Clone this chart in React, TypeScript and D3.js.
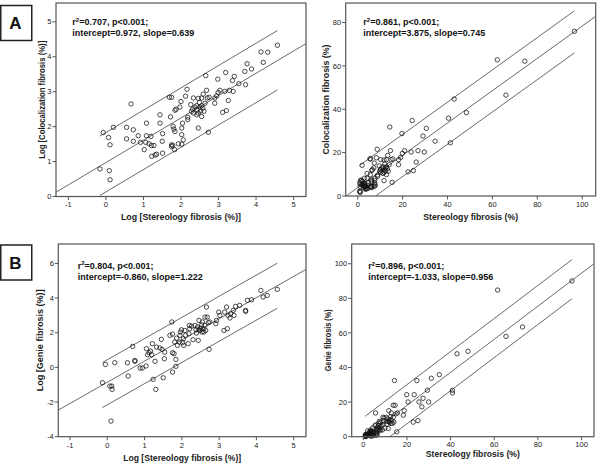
import React from 'react';
import * as d3 from 'd3';

// ---- Data (natural log of percentages) ----
const logStereologyA = [
  -0.16, -0.07, 0.07, 0.11, 0.09, 0.11, 0.2, 0.55, 0.55, 0.67,
  0.73, 0.73, 0.86, 0.92, 1.02, 1.08, 1.08, 1.06, 1.15, 1.2,
  1.21, 1.28, 1.22, 1.31, 1.35, 1.44, 1.44, 1.51, 1.5, 1.51,
  1.69, 1.75, 1.72, 1.75, 1.75, 1.78, 1.79, 1.81, 1.84, 1.84,
  1.87, 1.83, 1.93, 1.97, 2.0, 2.02, 2.02, 2.04, 2.06, 2.12,
  2.16, 2.18, 2.18, 2.26, 2.33, 2.31, 2.37, 2.42, 2.43, 2.46,
  2.46, 2.49, 2.5, 2.52, 2.55, 2.55, 2.55, 2.58, 2.59, 2.61,
  2.64, 2.66, 2.68, 2.7, 2.73, 2.75, 2.9, 2.9, 2.95, 2.98,
  2.99, 3.04, 3.11, 3.17, 3.19, 3.21, 3.26, 3.29, 3.37, 3.39,
  3.42, 3.54, 3.7, 3.72, 3.76, 3.88, 4.13, 4.19, 4.31, 4.57,
  2.02, 2.33, 2.42, 2.46, 2.28,
];
const logColocalization = [
  0.79, 1.83, 1.69, 1.48, 0.74, 0.48, 1.98, 1.98, 1.65, 2.65,
  1.91, 1.58, 1.74, 1.55, 1.34, 2.1, 1.74, 1.55, 1.51, 1.72,
  1.46, 1.46, 1.15, 1.19, 1.21, 2.34, 2.1, 1.8, 1.58, 1.24,
  2.84, 2.84, 2.28, 1.48, 1.43, 1.46, 2.01, 1.93, 1.86, 2.47,
  2.5, 1.34, 1.51, 2.56, 2.72, 1.96, 1.77, 2.1, 1.62, 2.87,
  3.07, 2.27, 2.2, 2.63, 2.82, 2.5, 2.56, 2.6, 2.48, 1.96,
  2.81, 2.69, 2.56, 2.45, 2.6, 2.82, 2.29, 2.53, 2.93, 2.44,
  2.67, 3.46, 3.04, 2.82, 1.84, 2.84, 2.82, 2.67, 2.88, 3.36,
  2.98, 3.04, 2.41, 3.01, 3.55, 2.46, 2.75, 3.04, 3.32, 3.01,
  3.44, 3.23, 3.58, 3.2, 3.8, 3.65, 4.14, 3.84, 4.13, 4.33,
  1.5, 2.39, 2.34, 2.39, 2.44,
];
const logStereologyB = [
  -0.13, -0.05, 0.07, 0.12, 0.13, 0.1, 0.2, 0.54, 0.56, 0.68,
  0.74, 0.74, 0.88, 0.94, 1.04, 1.05, 1.08, 1.12, 1.16, 1.19,
  1.21, 1.23, 1.28, 1.3, 1.32, 1.41, 1.45, 1.47, 1.5, 1.53,
  1.54, 1.68, 1.73, 1.75, 1.75, 1.75, 1.79, 1.81, 1.84, 1.84,
  1.86, 1.88, 1.93, 1.95, 1.96, 1.99, 2.02, 2.04, 2.05, 2.08,
  2.1, 2.17, 2.19, 2.2, 2.21, 2.26, 2.3, 2.35, 2.38, 2.39,
  2.42, 2.44, 2.46, 2.46, 2.48, 2.5, 2.53, 2.54, 2.55, 2.57,
  2.59, 2.62, 2.62, 2.64, 2.66, 2.68, 2.71, 2.73, 2.75, 2.91,
  2.93, 2.99, 3.02, 3.13, 3.15, 3.2, 3.22, 3.24, 3.29, 3.31,
  3.38, 3.4, 3.44, 3.55, 3.71, 3.71, 3.76, 3.87, 4.12, 4.18,
  4.29, 4.56,
];
const logGenie = [
  -0.88, 0.17, -1.08, -1.08, -1.27, -3.1, 0.27, 0.27, -0.5, 1.21,
  0.35, 0.4, -0.04, -0.04, 0.08, 1.08, 0.73, 0.85, 0.94, 0.73,
  1.37, -0.69, 0.35, -1.27, 1.17, 1.12, 1.62, 1.04, -0.6, 0.5,
  0.88, 1.85, 2.62, 1.92, 0.85, -0.27, 0.79, 1.46, 0.46, 0.06,
  1.69, 1.27, 1.46, 1.85, 2.04, 2.17, 1.42, 1.65, 1.27, 2.13,
  1.85, 1.37, 1.94, 2.42, 2.23, 2.38, 1.6, 2.42, 2.17, 1.98,
  2.33, 1.56, 2.17, 2.71, 2.13, 2.27, 2.46, 2.04, 2.62, 2.23,
  2.04, 2.9, 2.42, 2.13, 3.48, 2.9, 2.58, 1.04, 2.62, 2.52,
  2.71, 3.19, 3.0, 2.13, 3.19, 3.48, 2.23, 3.0, 2.85, 3.1,
  3.29, 3.0, 3.52, 3.58, 3.29, 3.23, 3.87, 3.9, 4.44, 4.06,
  4.15, 4.5,
];

// percentages (inverse of the natural log)
const stereologyA = logStereologyA.map(Math.exp);
const colocalization = logColocalization.map(Math.exp);
const stereologyB = logStereologyB.map(Math.exp);
const genie = logGenie.map(Math.exp);

// ---- Ticks ----
const xTicksLog = [-1, 0, 1, 2, 3, 4, 5];
const yTicksColocLog = [0, 1, 2, 3, 4, 5];
const xTicksPct = [0, 20, 40, 60, 80, 100];
const yTicksColocPct = [0, 20, 40, 60, 80];
const yTicksGenieLog = [-4, -2, 0, 2, 4, 6];
const yTicksGeniePct = [0, 20, 40, 60, 80, 100];

// ---- Fits: [r2, intercept, slope, lower band offset, upper band offset] ----
const fitColocLog = [0.707, 0.972, 0.639, -0.84, 0.86];
const fitColocPct = [0.861, 3.875, 0.745, -9.8, 9.6];
const fitGenieLog = [0.804, -0.86, 1.222, -1.3, 1.3];
const fitGeniePct = [0.896, -1.033, 0.956, -10.6, 12.0];

const FONT = '"Liberation Sans", Arial, Helvetica, sans-serif';
const FRAME = '#555';

type PanelProps = {
  id: string;
  x0: number; x1: number; y0: number; y1: number;
  xDomain: [number, number]; yDomain: [number, number];
  xTicks: number[]; yTicks: number[];
  xs: number[]; ys: number[];
  fit: number[];
  xTitle: string; yTitle: string;
  xTitleY: number; yTitleX: number;
  xTitleW: number; yTitleW: number;
  annX: number; annY: number;
  xTickY: number;
};

function fmt(v: number) {
  return v.toFixed(3);
}

function Panel(p: PanelProps) {
  const x = d3.scaleLinear().domain(p.xDomain).range([p.x0, p.x1]);
  const y = d3.scaleLinear().domain(p.yDomain).range([p.y1, p.y0]);
  const [r2, b0, b1, lo, hi] = p.fit;
  const xmin = d3.min(p.xs) as number;
  const xmax = d3.max(p.xs) as number;
  const line = d3.line<[number, number]>().x(d => x(d[0])).y(d => y(d[1]));
  const mid = line([[p.xDomain[0], b0 + b1 * p.xDomain[0]], [p.xDomain[1], b0 + b1 * p.xDomain[1]]]) || '';
  const up = line([[xmin, b0 + b1 * xmin + hi], [xmax, b0 + b1 * xmax + hi]]) || '';
  const dn = line([[xmin, b0 + b1 * xmin + lo], [xmax, b0 + b1 * xmax + lo]]) || '';
  const clipId = 'clip-' + p.id;
  const cx = (p.x0 + p.x1) / 2;
  const cy = (p.y0 + p.y1) / 2;
  return (
    <g>
      <defs>
        <clipPath id={clipId}>
          <rect x={p.x0} y={p.y0} width={p.x1 - p.x0} height={p.y1 - p.y0} />
        </clipPath>
      </defs>
      <g clipPath={`url(#${clipId})`} fill="none" stroke="#444" strokeWidth={0.8}>
        <path d={mid} />
        <path d={up} />
        <path d={dn} />
      </g>
      <g fill="none" stroke="#111" strokeWidth={0.75}>
        {p.xs.map((v, i) => (
          <circle key={i} cx={x(v)} cy={y(p.ys[i])} r={2.2} />
        ))}
      </g>
      <rect x={p.x0} y={p.y0} width={p.x1 - p.x0} height={p.y1 - p.y0}
        fill="none" stroke={FRAME} strokeWidth={1.2} />
      {p.xTicks.map(t => (
        <g key={'x' + t}>
          <line x1={x(t)} x2={x(t)} y1={p.y1} y2={p.y1 + 3.5} stroke={FRAME} strokeWidth={1} />
          <text x={x(t)} y={p.xTickY} textAnchor="middle" fontSize={7.5} fontFamily={FONT} fill="#222">{t}</text>
        </g>
      ))}
      {p.yTicks.map(t => (
        <g key={'y' + t}>
          <line x1={p.x0 - 3.5} x2={p.x0} y1={y(t)} y2={y(t)} stroke={FRAME} strokeWidth={1} />
          <text x={p.x0 - 4.5} y={y(t)} dy="0.35em" textAnchor="end" fontSize={7.5} fontFamily={FONT} fill="#222">{t}</text>
        </g>
      ))}
      <text x={cx} y={p.xTitleY} textAnchor="middle" fontSize={9.3} fontWeight="bold" fontFamily={FONT} fill="#222"
        textLength={p.xTitleW} lengthAdjust="spacingAndGlyphs">{p.xTitle}</text>
      <text transform={`translate(${p.yTitleX},${cy}) rotate(-90)`} textAnchor="middle" dy="0.35em" fontSize={9.3}
        fontWeight="bold" fontFamily={FONT} fill="#222" textLength={p.yTitleW} lengthAdjust="spacingAndGlyphs">{p.yTitle}</text>
      <text x={p.annX} y={p.annY} fontSize={9} fontWeight="bold" fontFamily={FONT} fill="#111">
        r<tspan fontSize={6} dy={-3.5}>2</tspan><tspan dy={3.5}>{`=${r2.toFixed(3)}, p<0.001;`}</tspan>
      </text>
      <text x={p.annX} y={p.annY + 11} fontSize={9} fontWeight="bold" fontFamily={FONT} fill="#111">
        {`intercept=${fmt(b0)}, slope=${fmt(b1)}`}
      </text>
    </g>
  );
}

function LabelBox({ y, label }: { y: number; label: string }) {
  return (
    <g>
      <rect x={0.75} y={y} width={31} height={35} fill="#fff" stroke="#222" strokeWidth={1.5} />
      <text x={15.5} y={y + 17.5} dy="0.36em" textAnchor="middle" fontSize={17} fontWeight="bold" fontFamily={FONT} fill="#111">{label}</text>
    </g>
  );
}

export default function App() {
  return (
    <svg width={600} height={469} viewBox="0 0 600 469"
      style={{ position: 'absolute', left: 0, top: 0, background: '#fff' }}>
      <rect x={0} y={0} width={600} height={469} fill="#fff" />
      <Panel id="a1" x0={56} x1={306} y0={3} y1={196.5}
        xDomain={[-1.33, 5.33]} yDomain={[0, 5.54]}
        xTicks={xTicksLog} yTicks={yTicksColocLog}
        xs={logStereologyA} ys={logColocalization} fit={fitColocLog}
        xTitle="Log [Stereology fibrosis (%)]" yTitle="Log [Colocalization fibrosis (%)]"
        xTitleY={220} yTitleX={41.5} xTitleW={120} yTitleW={118}
        annX={72.3} annY={25} xTickY={207} />
      <Panel id="a2" x0={345.7} x1={595.7} y0={3} y1={196}
        xDomain={[-5.35, 106]} yDomain={[0, 89]}
        xTicks={xTicksPct} yTicks={yTicksColocPct}
        xs={stereologyA} ys={colocalization} fit={fitColocPct}
        xTitle="Stereology fibrosis (%)" yTitle="Colocalization fibrosis (%)"
        xTitleY={220} yTitleX={326} xTitleW={95} yTitleW={110}
        annX={363.3} annY={25} xTickY={207} />
      <Panel id="b1" x0={58.3} x1={306} y0={244} y1={436.7}
        xDomain={[-1.314, 5.33]} yDomain={[-4, 7.12]}
        xTicks={xTicksLog} yTicks={yTicksGenieLog}
        xs={logStereologyB} ys={logGenie} fit={fitGenieLog}
        xTitle="Log [Stereology fibrosis (%)]" yTitle="Log [Genie fibrosis (%)]"
        xTitleY={461} yTitleX={39.3} xTitleW={118} yTitleW={102}
        annX={77.7} annY={268.5} xTickY={448} />
      <Panel id="b2" x0={351.7} x1={594} y0={244} y1={436.7}
        xDomain={[-5.3, 105.7]} yDomain={[0, 111.4]}
        xTicks={xTicksPct} yTicks={yTicksGeniePct}
        xs={stereologyB} ys={genie} fit={fitGeniePct}
        xTitle="Stereology fibrosis (%)" yTitle="Genie fibrosis (%)"
        xTitleY={457} yTitleX={327.7} xTitleW={94} yTitleW={62}
        annX={368.3} annY={269} xTickY={446.5} />
      <LabelBox y={5.5} label="A" />
      <LabelBox y={245} label="B" />
    </svg>
  );
}
